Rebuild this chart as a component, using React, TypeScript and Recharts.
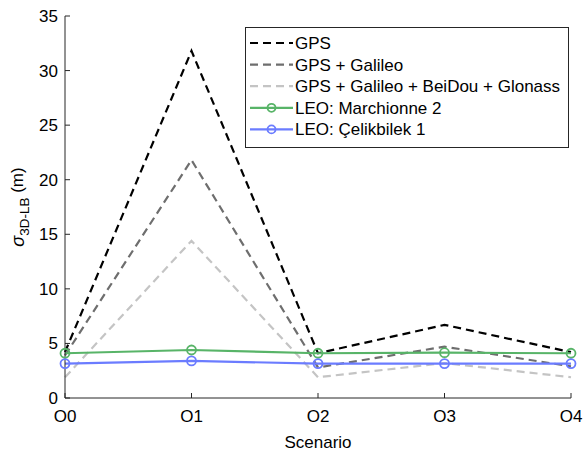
import React from 'react';
import { LineChart, Line, XAxis, YAxis, Label } from 'recharts';

const scenarios = ['O0', 'O1', 'O2', 'O3', 'O4'];
const gps = [4.2, 31.8, 4.1, 6.7, 4.2];
const gpsGalileo = [3.9, 21.8, 2.8, 4.7, 2.9];
const gpsAll = [1.9, 14.4, 1.9, 3.2, 1.9];
const leoMarchionne = [4.1, 4.4, 4.1, 4.15, 4.1];
const leoCelikbilek = [3.15, 3.4, 3.15, 3.15, 3.15];
const yTicks = [0, 5, 10, 15, 20, 25, 30, 35];

const seriesNames = [
  'GPS',
  'GPS + Galileo',
  'GPS + Galileo + BeiDou + Glonass',
  'LEO: Marchionne 2',
  'LEO: Çelikbilek 1',
];

const data = scenarios.map((s, i) => ({
  name: s,
  gps: gps[i],
  gal: gpsGalileo[i],
  all: gpsAll[i],
  mar: leoMarchionne[i],
  cel: leoCelikbilek[i],
}));

const FONT = '"Liberation Sans", Arial, sans-serif';
const AXIS = '#262626';
const GREEN = '#58b468';
const BLUE = '#6b7cff';

const legendItems = [
  { name: seriesNames[0], color: '#000000', dash: '8 5', marker: false },
  { name: seriesNames[1], color: '#6e6e6e', dash: '8 5', marker: false },
  { name: seriesNames[2], color: '#c4c4c4', dash: '8 5', marker: false },
  { name: seriesNames[3], color: GREEN, dash: undefined, marker: true },
  { name: seriesNames[4], color: BLUE, dash: undefined, marker: true },
];

const LegendBox = () => (
  <svg width={324} height={121} style={{ display: 'block' }}>
    <rect x={0.5} y={0.5} width={323} height={120} fill="#fff" stroke="#262626" strokeWidth={1} />
    {legendItems.map((it, i) => {
      const y = 16 + i * 21.6;
      return (
        <g key={it.name}>
          <line x1={5} x2={48} y1={y} y2={y} stroke={it.color} strokeWidth={2.2} strokeDasharray={it.dash} />
          {it.marker && <circle cx={26.5} cy={y} r={4} fill="none" stroke={it.color} strokeWidth={1.8} />}
          <text x={50} y={y + 6} fontSize={17} fontFamily={FONT} fill="#000">
            {it.name}
          </text>
        </g>
      );
    })}
  </svg>
);

const YLabel = (props: any) => {
  const vb = props.viewBox || {};
  const cx = 19;
  const cy = vb.y + vb.height / 2;
  return (
    <text
      x={cx}
      y={cy}
      transform={`rotate(-90, ${cx}, ${cy})`}
      textAnchor="middle"
      fontFamily={FONT}
      fontSize={17}
      fill="#000"
      dominantBaseline="middle"
    >
      <tspan fontStyle="italic" fontSize={18}>σ</tspan>
      <tspan fontSize={13.5} dy={6}>3D-LB</tspan>
      <tspan dy={-6}> (m)</tspan>
    </text>
  );
};

const dot = (color: string) => ({ r: 4.5, fill: 'none', stroke: color, strokeWidth: 1.8 });

export default function App() {
  return (
    <div style={{ position: 'absolute', left: 0, top: 0, width: 585, height: 451, background: '#fff' }}>
      <LineChart width={585} height={451} data={data} margin={{ top: 16, right: 14, bottom: 0, left: 0 }}>
        <XAxis
          dataKey="name"
          xAxisId="b"
          height={53}
          interval={0}
          padding={{ left: 0, right: 0 }}
          tickSize={-5}
          tickMargin={17}
          axisLine={{ stroke: AXIS, strokeWidth: 1 }}
          tickLine={{ stroke: AXIS }}
          tick={{ fill: '#000', fontSize: 17, fontFamily: FONT }}
        >
          <Label value="Scenario" position="insideBottom" offset={3} fill="#000" fontSize={17} fontFamily={FONT} />
        </XAxis>
        <XAxis
          dataKey="name"
          xAxisId="t"
          orientation="top"
          height={0}
          interval={0}
          tickSize={-5}
          tick={false}
          axisLine={{ stroke: AXIS, strokeWidth: 1 }}
          tickLine={{ stroke: AXIS }}
        />
        <YAxis
          yAxisId="l"
          width={65}
          domain={[0, 35]}
          ticks={yTicks}
          interval={0}
          tickSize={-5}
          tickMargin={12}
          axisLine={{ stroke: AXIS, strokeWidth: 1 }}
          tickLine={{ stroke: AXIS }}
          tick={{ fill: '#000', fontSize: 17, fontFamily: FONT }}
          label={<YLabel />}
        />
        <YAxis
          yAxisId="r"
          orientation="right"
          width={0}
          domain={[0, 35]}
          ticks={yTicks}
          interval={0}
          tickSize={-5}
          tick={false}
          axisLine={{ stroke: AXIS, strokeWidth: 1 }}
          tickLine={{ stroke: AXIS }}
        />
        <Line xAxisId="b" yAxisId="l" dataKey="gps" name={seriesNames[0]} stroke="#000000" strokeWidth={2.2} strokeDasharray="8 5" dot={false} isAnimationActive={false} />
        <Line xAxisId="b" yAxisId="l" dataKey="gal" name={seriesNames[1]} stroke="#6e6e6e" strokeWidth={2.2} strokeDasharray="8 5" dot={false} isAnimationActive={false} />
        <Line xAxisId="b" yAxisId="l" dataKey="all" name={seriesNames[2]} stroke="#c4c4c4" strokeWidth={2.2} strokeDasharray="8 5" dot={false} isAnimationActive={false} />
        <Line xAxisId="b" yAxisId="l" dataKey="mar" name={seriesNames[3]} stroke={GREEN} strokeWidth={2.2} dot={dot(GREEN)} isAnimationActive={false} />
        <Line xAxisId="b" yAxisId="l" dataKey="cel" name={seriesNames[4]} stroke={BLUE} strokeWidth={2.2} dot={dot(BLUE)} isAnimationActive={false} />
      </LineChart>
      <div style={{ position: 'absolute', left: 245, top: 27 }}>
        <LegendBox />
      </div>
    </div>
  );
}
